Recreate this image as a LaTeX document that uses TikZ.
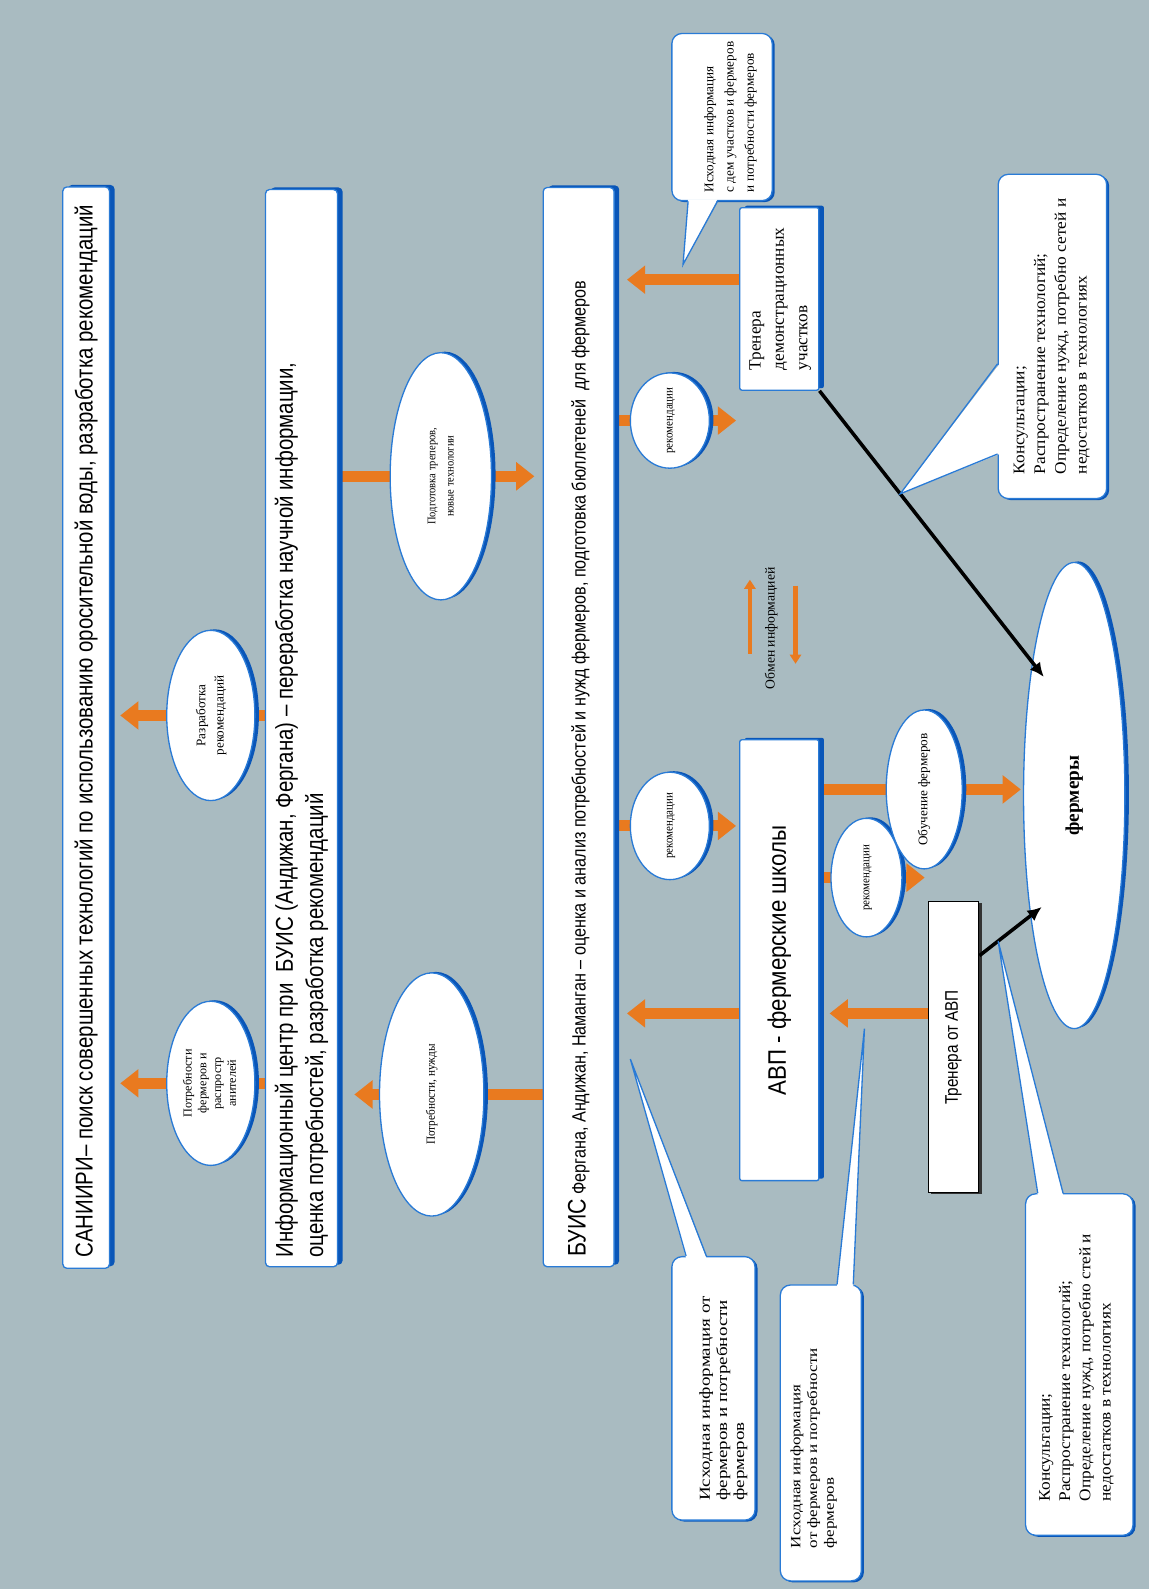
\documentclass[tikz,border=0pt]{standalone}
\usepackage{fontspec}
\usepackage{graphicx}
\setmainfont{Liberation Serif}
\newfontfamily\narA[FakeStretch=0.84]{Liberation Sans}
\newfontfamily\narB[FakeStretch=0.88]{Liberation Sans}
\newfontfamily\ser[FakeStretch=0.9]{Liberation Serif}
\newfontfamily\serA{Liberation Serif}
\newfontfamily\serB[FakeStretch=1.07]{Liberation Serif}
\newfontfamily\serC[FakeStretch=1.25]{Liberation Serif}
\newfontfamily\serD[FakeStretch=1.2]{Liberation Serif}
\usetikzlibrary{shapes.geometric,shadows,arrows.meta,calc}
\definecolor{bgc}{HTML}{A9BBC1}
\definecolor{bord}{HTML}{2A7BD6}
\definecolor{shad}{HTML}{0A56B8}
\definecolor{org}{HTML}{E97A1F}
\pgfdeclarelayer{bg}\pgfdeclarelayer{arr}\pgfsetlayers{bg,arr,main}
\newcommand\rtxt[2][c]{\rotatebox{90}{\begin{tabular}{@{}#1@{}}#2\end{tabular}}}
\tikzset{
 bar/.style={draw=bord, line width=1.3pt, fill=white, rounded corners=4pt, inner sep=0pt,
   drop shadow={shadow xshift=5pt, shadow yshift=2pt, fill=shad, opacity=1}},
 ell/.style={ellipse, draw=bord, line width=1.3pt, fill=white, inner sep=0pt,
   drop shadow={shadow xshift=4pt, shadow yshift=1pt, fill=shad, opacity=1}},
 callout/.style={draw=bord, line width=1.3pt, fill=white, rounded corners=10pt, inner sep=0pt,
   drop shadow={shadow xshift=2.5pt, shadow yshift=-1.5pt, fill=shad, opacity=1}},
 blackbox/.style={draw=black, line width=1pt, fill=white, inner sep=0pt,
   drop shadow={shadow xshift=3pt, shadow yshift=-1pt, fill=black!80, opacity=1}},
 oarrow/.style={draw=org, line width=11pt, -{Triangle[width=27pt,length=18pt]}},
 thinarrow/.style={draw=org, line width=4pt, -{Triangle[width=11pt,length=9pt]}},
 barrow/.style={draw=black, line width=3.5pt, -{Latex[width=13pt,length=14pt]}},
 ptr/.style={draw=bord, line width=1.3pt}
}
\begin{document}
\begin{tikzpicture}[x=1pt,y=-1pt]
\begin{pgfonlayer}{bg}
\fill[bgc] (0,0) rectangle (1134,1568);
\end{pgfonlayer}
\useasboundingbox (0,0) rectangle (1134,1568);

% main bars
\node[bar, minimum width=46, minimum height=1067] (san) at (85,718)
 {\rotatebox{90}{\makebox[1045pt][l]{\narA\fontsize{24}{28}\selectfont САНИИРИ– поиск совершенных технологий по использованию оросительной воды, разработка рекомендаций}}};
\node[bar, minimum width=71, minimum height=1063] (info) at (297.5,718.5)
 {\rotatebox{90}{\parbox{1045pt}{\raggedright\narA\fontsize{24}{30}\selectfont Информационный центр при\ \ БУИС (Андижан, Фергана) – переработка научной информации,\\оценка потребностей, разработка рекомендаций}}};
\node[bar, minimum width=70, minimum height=1065] (buis) at (571,717.5)
 {\rotatebox{90}{\makebox[1045pt][l]{\narA\fontsize{19}{24}\selectfont{\fontsize{25}{28}\selectfont БУИС} Фергана, Андижан, Наманган – оценка и анализ потребностей и нужд фермеров, подготовка бюллетеней\ \ для фермеров}}};

% ellipses
\node[ell, minimum width=87, minimum height=162, font=\serA\fontsize{12}{14.5}\selectfont] (e1) at (208,1069) {\rtxt{Потребности\\фермеров и\\распростр\\анителей}};
\node[ell, minimum width=87, minimum height=168, font=\serA\fontsize{13}{18}\selectfont] (e2) at (208,706) {\rtxt{Разработка\\рекомендаций}};
\node[ell, minimum width=103, minimum height=240, font=\ser\fontsize{12.3}{15}\selectfont] (e3) at (426,1080) {\rtxt{Потребности, нужды}};
\node[ell, minimum width=100, minimum height=244, font=\ser\fontsize{11.5}{18}\selectfont] (e4) at (435,470) {\rtxt{Подготовка треперов,\\новые технологии}};
\node[ell, minimum width=78, minimum height=94, font=\ser\fontsize{12}{14}\selectfont] (rec1) at (661,415) {\rtxt{рекомендации}};
\node[ell, minimum width=78, minimum height=106, font=\ser\fontsize{12}{14}\selectfont] (rec2) at (661,815) {\rtxt{рекомендации}};
\node[ell, minimum width=70, minimum height=117, font=\ser\fontsize{12}{14}\selectfont] (rec3) at (855,866) {\rtxt{рекомендации}};
\node[ell, minimum width=75, minimum height=118, font=\serA\fontsize{13}{15}\selectfont] (obuch) at (912,779) {\rtxt{Обучение фермеров}};
\node[ell, minimum width=100, minimum height=460] (farm) at (1060,785) {\rotatebox{90}{\fontsize{19}{22}\selectfont\bfseries фермеры}};

% boxes
\node[bar, rounded corners=2pt, minimum width=78, minimum height=180, font=\serA\fontsize{17}{23}\selectfont] (demo) at (769,295)
 {\rtxt[l]{Тренера\\демонстрационных\\участков}};
\node[bar, rounded corners=2pt, minimum width=78, minimum height=435] (avp) at (769,947.5)
 {\rotatebox{90}{\narB\fontsize{25}{28}\selectfont АВП - фермерские школы}};
\node[blackbox, minimum width=50, minimum height=287] (travp) at (941,1033.5)
 {\rotatebox{90}{\narA\fontsize{18}{22}\selectfont Тренера от АВП}};

% callouts
\node[callout, minimum width=99, minimum height=165,
  label={[xshift=7.5pt, font=\serA\fontsize{13}{20}\selectfont]center:{\rtxt[l]{Исходная информация\\с дем участков и фермеров\\и потребности фермеров}}}] (ctop) at (712.5,115.5) {};
\node[callout, minimum width=82, minimum height=260,
  label={[xshift=10pt, yshift=-10pt, font=\serC\fontsize{15}{17}\selectfont]center:{\rtxt[l]{Исходная информация от\\фермеров и потребности\\фермеров}}}] (cbl1) at (704,1370) {};
\node[callout, minimum width=80, minimum height=292,
  label={[xshift=-7pt, yshift=-15pt, font=\serD\fontsize{14}{16.5}\selectfont]center:{\rtxt[l]{Исходная информация\\от фермеров и потребности\\фермеров}}}] (cbl2) at (810,1414) {};
\node[callout, minimum width=107, minimum height=320,
  label={[xshift=-1pt, font=\serB\fontsize{16}{20.5}\selectfont]center:{\rtxt[l]{Консультации;\\Распространение технологий;\\Определение нужд, потребно сетей и\\недостатков в технологиях}}}] (ctr) at (1038.5,332) {};
\node[callout, minimum width=106, minimum height=337,
  label={[xshift=-3pt, yshift=-3pt, font=\serB\fontsize{16}{20}\selectfont]center:{\rtxt[l]{Консультации;\\Распространение технологий;\\Определение нужд, потребно стей и\\недостатков в технологиях}}}] (cbr) at (1065,1346.5) {};

% black arrows
\coordinate (fb1) at ($(farm.center)+(-30,-117)$);
\coordinate (fb2) at ($(farm.center)+(-32,110)$);
\coordinate (tb2) at ([yshift=90.5pt]travp.east);
\draw[barrow] (demo.south east) -- (fb1);
\draw[barrow] (tb2) -- (fb2);

% callout pointers
\coordinate (tctop) at (674,261);
\coordinate (tcbl1) at (622,1045);
\coordinate (tcbl2) at (853,1015);
\coordinate (tctr) at ($(demo.south east)!0.36!(fb1)$);
\coordinate (tcbr) at ($(tb2)!0.3!(fb2)$);
\fill[white] ($(ctop.south)+(-33.5,-2)$) -- (tctop) -- ($(ctop.south)+(-4.5,-2)$) -- cycle;
\draw[ptr] ($(ctop.south)+(-33.5,0)$) -- (tctop) -- ($(ctop.south)+(-4.5,0)$);
\fill[white] ($(cbl1.north)+(-27,2)$) -- (tcbl1) -- ($(cbl1.north)+(-7,2)$) -- cycle;
\draw[ptr] ($(cbl1.north)+(-27,0)$) -- (tcbl1) -- ($(cbl1.north)+(-7,0)$);
\fill[white] ($(cbl2.north)+(16,2)$) -- (tcbl2) -- ($(cbl2.north)+(32,2)$) -- cycle;
\draw[ptr] ($(cbl2.north)+(16,0)$) -- (tcbl2) -- ($(cbl2.north)+(32,0)$);
\fill[white] ($(ctr.west)+(2,27)$) -- (tctr) -- ($(ctr.west)+(2,116)$) -- cycle;
\draw[ptr] ($(ctr.west)+(0,27)$) -- (tctr) -- ($(ctr.west)+(0,116)$);
\fill[white] ($(cbr.north)+(-41,2)$) -- (tcbr) -- ($(cbr.north)+(-16,2)$) -- cycle;
\draw[ptr] ($(cbr.north)+(-41,0)$) -- (tcbr) -- ($(cbr.north)+(-16,0)$);

% orange arrows
\begin{pgfonlayer}{arr}
\draw[oarrow, shorten >=10pt] (info.west |- e1) -- (san.east |- e1);
\draw[oarrow, shorten >=10pt] (info.west |- e2) -- (san.east |- e2);
\draw[oarrow, shorten >=16pt] (buis.west |- e3) -- (info.east |- e3);
\draw[oarrow, shorten >=8pt] (info.east |- e4) -- (buis.west |- e4);
\draw[oarrow, shorten >=3pt] (buis.east |- rec1) -- (demo.west |- rec1);
\draw[oarrow, shorten >=12pt] ([yshift=19pt]demo.west) -- ([yshift=19pt]demo.west -| buis.east);
\draw[oarrow, shorten >=3pt] (buis.east |- rec2) -- (avp.west |- rec2);
\draw[oarrow, shorten >=12pt] ([yshift=-52.5pt]avp.west) -- ([yshift=-52.5pt]avp.west -| buis.east);
\draw[oarrow, shorten >=3pt] (avp.east |- rec3) -- (travp.west |- rec3);
\draw[oarrow, shorten >=10pt] ([yshift=33.5pt]travp.west) -- ([yshift=33.5pt]travp.west -| avp.east);
\draw[oarrow, shorten >=2pt] (avp.east |- obuch) -- (farm.west |- obuch);
\end{pgfonlayer}

% information exchange
\coordinate (ex1a) at (740,645);
\coordinate (ex1b) at (740,572);
\coordinate (ex2a) at (785,578);
\coordinate (ex2b) at (785,655);
\draw[thinarrow] (ex1a) -- (ex1b);
\draw[thinarrow] (ex2a) -- (ex2b);
\node[font=\serA\fontsize{13.5}{15}\selectfont, inner sep=0pt] (obmen) at (761,620) {\rotatebox{90}{Обмен информацией}};
\end{tikzpicture}
\end{document}
